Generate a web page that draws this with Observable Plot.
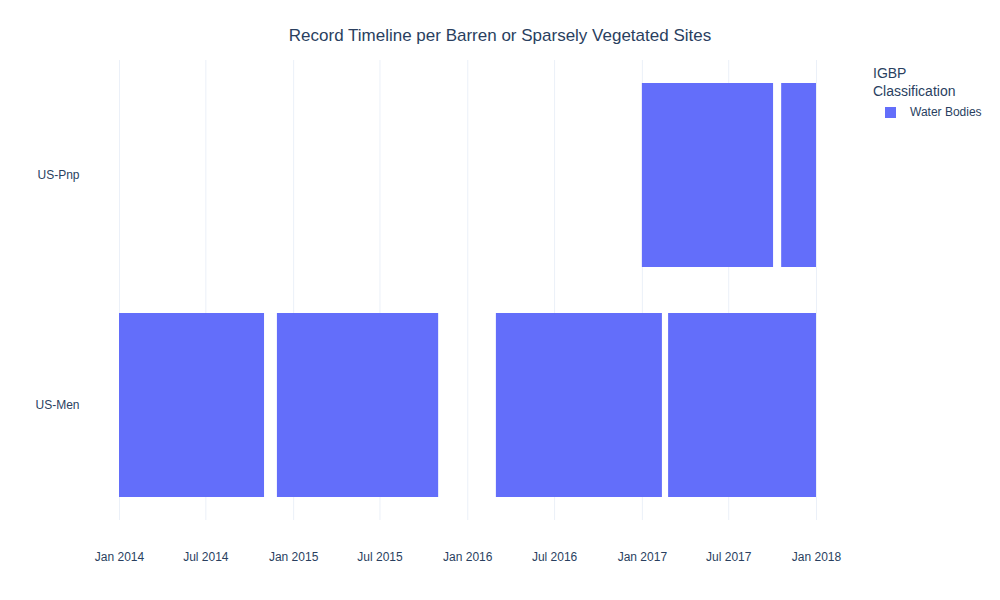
<!DOCTYPE html>
<html>
<head>
<meta charset="utf-8">
<script src="https://cdn.jsdelivr.net/npm/d3@7"></script>
<script src="https://cdn.jsdelivr.net/npm/@observablehq/plot@0.6"></script>
<style>
  body { margin: 0; background: #fff; font-family: "Liberation Sans", Arial, sans-serif; color: #2a3f5f; }
  #wrap { position: relative; width: 1000px; height: 600px; }
  #title { position: absolute; top: 26px; left: 0; width: 1000px; text-align: center; font-size: 17px; }
  #legend { position: absolute; left: 873px; top: 64px; font-size: 14px; line-height: 18px; }
  #legend .item { font-size: 12px; margin-top: 3px; margin-left: 12px; display: flex; align-items: center; }
  #legend .sw { width: 11px; height: 11px; background: #636efa; margin-right: 14px; }
</style>
</head>
<body>
<div id="wrap">
  <div id="chart"></div>
  <div id="title">Record Timeline per Barren or Sparsely Vegetated Sites</div>
  <div id="legend">IGBP<br>Classification<div class="item"><span class="sw"></span>Water Bodies</div></div>
</div>
<script>
const sites = ["US-Men", "US-Men", "US-Men", "US-Men", "US-Pnp", "US-Pnp"];
const starts = ["2014-01-01", "2014-11-28", "2016-03-01", "2017-02-25", "2017-01-01", "2017-10-20"];
const ends = ["2014-11-01", "2015-11-01", "2017-02-12", "2018-01-01", "2017-10-03", "2018-01-01"];
const classes = ["Water Bodies", "Water Bodies", "Water Bodies", "Water Bodies", "Water Bodies", "Water Bodies"];
const siteOrder = ["US-Pnp", "US-Men"];
const tickDates = ["2014-01-01", "2014-07-01", "2015-01-01", "2015-07-01", "2016-01-01", "2016-07-01", "2017-01-01", "2017-07-01", "2018-01-01"];

const data = sites.map((s, i) => ({
  site: s, start: new Date(starts[i]), end: new Date(ends[i]), cls: classes[i]
}));
const ticks = tickDates.map(d => new Date(d));

const chart = Plot.plot({
  width: 1000,
  height: 600,
  marginTop: 60,
  marginBottom: 80,
  marginLeft: 119,
  marginRight: 184,
  style: { fontFamily: "Liberation Sans, Arial, sans-serif", fontSize: "12px", color: "#2a3f5f" },
  x: {
    type: "utc",
    domain: [new Date("2014-01-01"), new Date("2018-01-01")],
    ticks: ticks,
    tickFormat: d3.utcFormat("%b %Y"),
    tickSize: 0,
    tickPadding: 32,
    label: null
  },
  y: {
    domain: siteOrder,
    paddingInner: 0.2,
    paddingOuter: 0.1,
    tickSize: 0,
    tickPadding: 40,
    label: null
  },
  marks: [
    Plot.ruleX(ticks, { stroke: "#ebf0f8", strokeWidth: 1 }),
    Plot.barX(data, { x1: "start", x2: "end", y: "site", fill: "#636efa" })
  ]
});
d3.select("#chart").append(() => chart);
</script>
</body>
</html>
